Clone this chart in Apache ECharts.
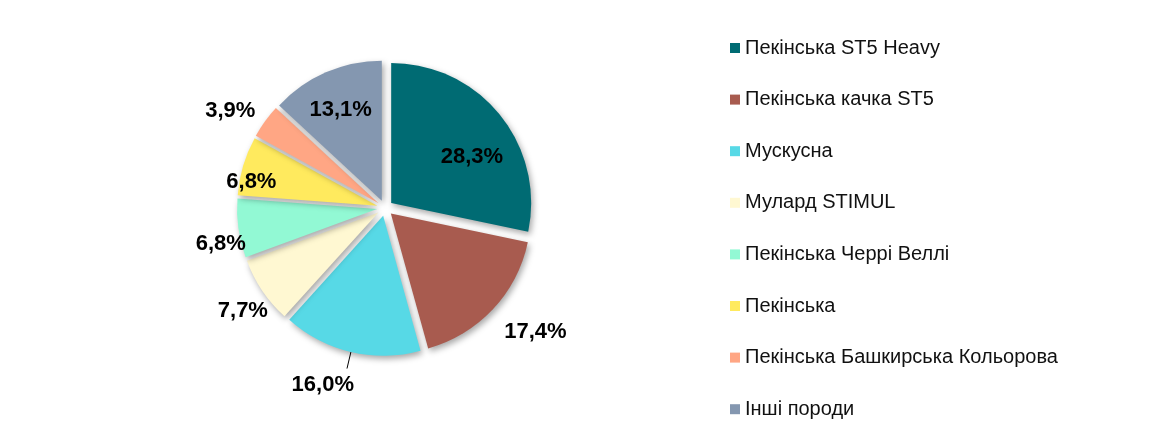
<!DOCTYPE html>
<html><head><meta charset="utf-8">
<script src="https://cdn.jsdelivr.net/npm/echarts@6/dist/echarts.min.js"></script>
<style>html,body{margin:0;padding:0;background:#fff}#c{width:1174px;height:435px}</style>
</head><body><div id="c"></div>
<script>
const categories = ['Пекінська ST5 Heavy','Пекінська качка ST5','Мускусна','Мулард STIMUL','Пекінська Черрі Веллі','Пекінська','Пекінська Башкирська Кольорова','Інші породи'];
const values = [28.3, 17.4, 16.0, 7.7, 6.8, 6.8, 3.9, 13.1];
const colors = ['#006b73','#a85b4f','#57d9e6','#fff8d2','#92f9d4','#ffea5e','#ffa684','#8497b0'];
// label placement: 'inside' or 'outside', and nudges
const labelPos = ['inside','outside','outside','inside','inside','inside','inside','inside'];
const nudges = [[24,0],[-6,11],[12,16],[-75,58],[-84,25],[-56,-3],[-89,-50],[-12,-24]];

const chart = echarts.init(document.getElementById('c'));
const data = categories.map((n,i)=>({
  name:n, value:values[i], selected:true,
  itemStyle:{color:colors[i]},
  label:{position:labelPos[i]},
  labelLine:{show: i===2, length:17, length2:0, lineStyle:{color:'#000',width:1}}
}));
chart.setOption({
  animation:false,
  legend:{
    orient:'vertical', left:725, top:33,
    itemWidth:10, itemHeight:10, itemGap:31.6, icon:'rect',
    textStyle:{fontFamily:'Liberation Sans, Arial', fontSize:20, color:'#111', lineHeight:20},
    data:categories
  },
  series:[{
    type:'pie', center:[385,208], radius:[0,140], startAngle:90, clockwise:true,
    selectedMode:'multiple', selectedOffset:8,
    avoidLabelOverlap:false,
    itemStyle:{shadowBlur:6, shadowOffsetX:2, shadowOffsetY:3, shadowColor:'rgba(0,0,0,0.35)'},
    label:{show:true, formatter:p=>p.value.toFixed(1).replace('.',',')+'%',
      fontFamily:'Liberation Sans, Arial', fontWeight:'bold', fontSize:22, color:'#000'},
    labelLine:{show:false},
    labelLayout:p=>({dx:nudges[p.dataIndex][0], dy:nudges[p.dataIndex][1]}),
    emphasis:{disabled:true},
    data:data
  }]
});
</script></body></html>
